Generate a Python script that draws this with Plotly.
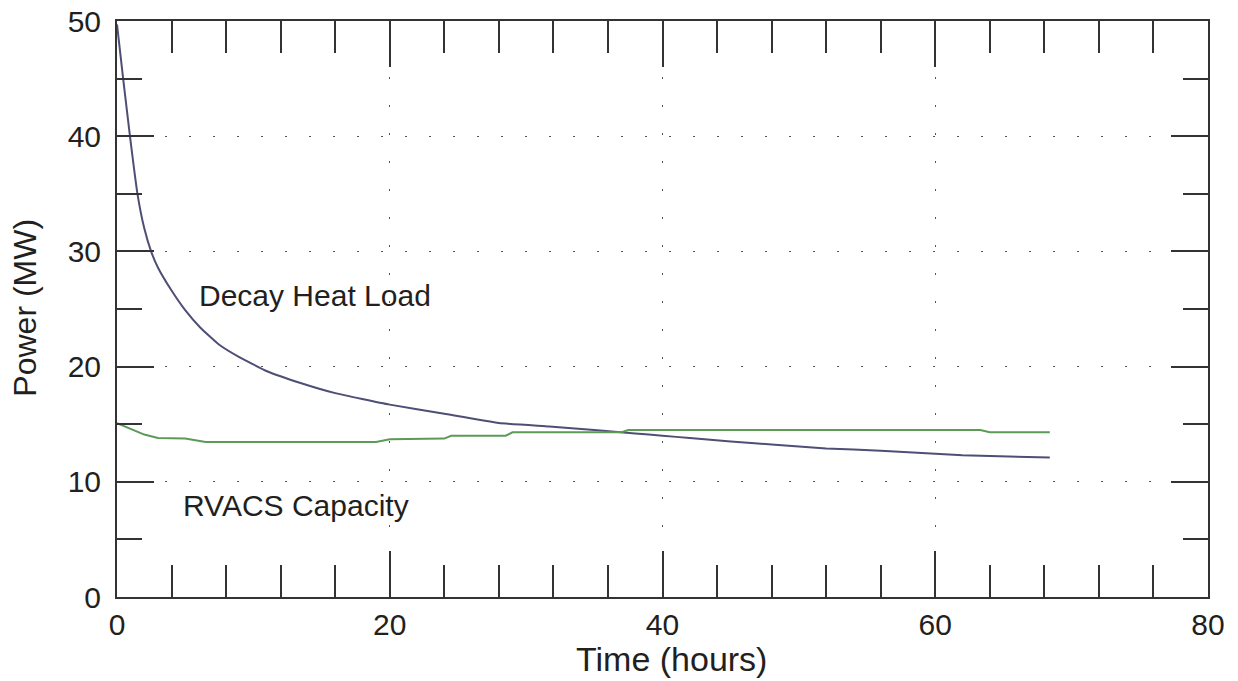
import plotly.graph_objects as go

# Decay heat load (MW) vs time (hours)
decay_t = [0, 0.45, 0.95, 1.5, 2.0, 2.5, 3.0, 4.0, 5.0, 6.1, 7.5, 9.0, 11.0, 13.4, 16.0,
           20.0, 24.0, 28.0, 31.7, 35.0, 38.0, 40.0, 42.0, 45.0, 48.5, 52.0, 56.0, 62.0, 68.4]
decay_p = [49.7, 45.0, 40.0, 35.0, 32.0, 30.0, 28.6, 26.6, 24.9, 23.4, 21.9, 20.8, 19.6, 18.6, 17.7,
           16.7, 15.9, 15.1, 14.8, 14.5, 14.2, 14.0, 13.8, 13.5, 13.2, 12.9, 12.7, 12.3, 12.1]

# RVACS capacity (MW) vs time (hours)
rvacs_t = [0, 1.0, 2.0, 3.0, 5.0, 6.5, 19.0, 20.0, 24.0, 24.5, 28.5, 29.0, 37.0, 37.5, 63.3, 64.0, 68.4]
rvacs_p = [15.1, 14.6, 14.1, 13.8, 13.75, 13.45, 13.45, 13.7, 13.75, 14.0, 14.0, 14.3, 14.3, 14.5, 14.5, 14.3, 14.3]

x_range = [0, 80]
y_range = [0, 50]

x_title = "Time (hours)"
y_title = "Power (MW)"

FONT = "Liberation Sans, Arial, sans-serif"
TXT = "#231f20"

fig = go.Figure()
fig.add_trace(go.Scatter(x=decay_t, y=decay_p, mode="lines", line_shape="spline",
                         line=dict(color="#4e4e76", width=2, smoothing=0.4), name="Decay Heat Load",
                         showlegend=False))
fig.add_trace(go.Scatter(x=rvacs_t, y=rvacs_p, mode="lines",
                         line=dict(color="#5c9a58", width=2), name="RVACS Capacity",
                         showlegend=False))

fig.add_annotation(x=5.9, y=26.2, text="Decay Heat Load", showarrow=False,
                   xanchor="left", yanchor="middle",
                   font=dict(family=FONT, size=30, color=TXT))
fig.add_annotation(x=4.7, y=7.9, text="RVACS Capacity", showarrow=False,
                   xanchor="left", yanchor="middle",
                   font=dict(family=FONT, size=30, color=TXT))

# axis titles as paper-positioned annotations
fig.add_annotation(xref="paper", yref="paper", x=0.508, y=-0.107, text=x_title,
                   showarrow=False, xanchor="center", yanchor="middle",
                   font=dict(family=FONT, size=34, color=TXT))
fig.add_annotation(xref="paper", yref="paper", x=-0.084, y=0.503, text=y_title,
                   showarrow=False, xanchor="center", yanchor="middle", textangle=-90,
                   font=dict(family=FONT, size=32, color=TXT))

axis_common = dict(showline=True, linecolor="#333333", linewidth=2, mirror="allticks",
                   ticks="inside", tickcolor="#333333", tickwidth=2,
                   showgrid=True, gridcolor="#555555", gridwidth=1,
                   zeroline=False, automargin=False)

fig.update_xaxes(range=x_range, dtick=20, tick0=0, ticklen=46, griddash="2px,26px",
                 minor=dict(dtick=4, tick0=0, ticks="inside", ticklen=32,
                            tickcolor="#333333", tickwidth=2, showgrid=False),
                 tickfont=dict(family=FONT, size=30, color=TXT),
                 ticklabelstandoff=0,
                 **axis_common)
fig.update_yaxes(range=y_range, dtick=10, tick0=0, ticklen=37, griddash="2px,22px",
                 minor=dict(dtick=5, tick0=0, ticks="inside", ticklen=25,
                            tickcolor="#333333", tickwidth=2, showgrid=False),
                 tickfont=dict(family=FONT, size=30, color=TXT),
                 ticklabelstandoff=8,
                 **axis_common)

fig.update_layout(width=1238, height=681,
                  margin=dict(l=117, r=30, t=21, b=84),
                  plot_bgcolor="white", paper_bgcolor="white")

fig.write_html("out.html")
